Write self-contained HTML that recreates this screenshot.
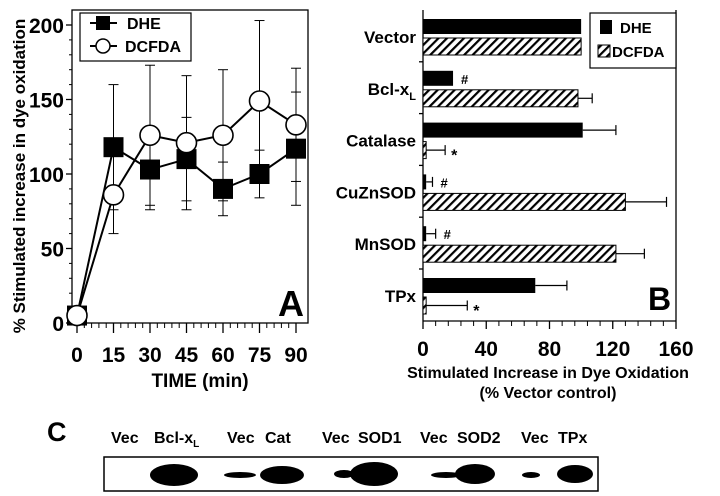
<!DOCTYPE html>
<html><head><meta charset="utf-8"><style>
body{margin:0;background:#fff}
svg{display:block;font-family:"Liberation Sans",Arial,sans-serif;font-weight:bold}
</style></head><body>
<svg id="fig" width="720" height="496" viewBox="0 0 720 496" xmlns="http://www.w3.org/2000/svg">
<defs><pattern id="hatch" width="6" height="6" patternUnits="userSpaceOnUse" patternTransform="rotate(45)"><rect width="6" height="6" fill="#fff"/><rect width="2.2" height="6" fill="#000"/></pattern></defs>
<g id="pa"></g>
<g id="pb"></g>
<g id="pc">
<text x="47" y="441" font-size="27">C</text>
<text x="111" y="443" font-size="16">Vec</text>
<text x="154" y="443" font-size="16">Bcl-x<tspan font-size="10" dy="4">L</tspan></text>
<text x="227" y="443" font-size="16">Vec</text>
<text x="265" y="443" font-size="16">Cat</text>
<text x="322" y="443" font-size="16">Vec</text>
<text x="358" y="443" font-size="16">SOD1</text>
<text x="420" y="443" font-size="16">Vec</text>
<text x="457" y="443" font-size="16">SOD2</text>
<text x="521" y="443" font-size="16">Vec</text>
<text x="558" y="443" font-size="16">TPx</text>
<rect x="104" y="457" width="494" height="34" fill="none" stroke="#000" stroke-width="1.5"/>
<ellipse cx="174" cy="475" rx="24" ry="11"/>
<ellipse cx="240" cy="475" rx="16" ry="3"/>
<ellipse cx="282" cy="475" rx="22" ry="9"/>
<ellipse cx="344" cy="474" rx="10" ry="4"/>
<ellipse cx="374" cy="474" rx="24" ry="12"/>
<ellipse cx="446" cy="475" rx="15" ry="3"/>
<ellipse cx="475" cy="474" rx="20" ry="10"/>
<ellipse cx="531" cy="475" rx="9" ry="3"/>
<ellipse cx="575" cy="474" rx="18" ry="9"/>
</g>
</svg>
<script>
const times=[0,15,30,45,60,75,90];
const dheVals=[5,118,103,110,90,100,117];
const dheErr=[0,42,27,28,18,16,38];
const dcfVals=[5,86,126,121,126,149,133];
const dcfErr=[0,26,47,45,44,54,38];
const yTicksA=[0,50,100,150,200];
const catsB=["Vector","Bcl-x","Catalase","CuZnSOD","MnSOD","TPx"];
const dheB=[100,19,101,2,2,71];
const dheBErr=[0,0,21,4,6,20];
const dcfB=[100,98,2,128,122,2];
const dcfBErr=[0,9,12,26,18,26];
const marksB=["","#","*","#","#","*"];
const xTicksB=[0,40,80,120,160];
const NS="http://www.w3.org/2000/svg";
function mk(p,t,a){const el=document.createElementNS(NS,t);for(const k in a)el.setAttribute(k,a[k]);p.appendChild(el);return el;}
// Panel A
const A=document.getElementById('pa');
const xA=t=>77+t*(219/90), yA=v=>323-v*1.49;
let e=mk(A,'rect',{x:72,y:10,width:236,height:313,fill:'none',stroke:'#000','stroke-width':1.3});


yTicksA.forEach(v=>{e=mk(A,'line',{x1:66,x2:72,y1:yA(v),y2:yA(v),stroke:'#000','stroke-width':1.3});


e=mk(A,'text',{x:64,y:yA(v)+8,'text-anchor':'end','font-size':21});e.textContent=v;

});
for(let v=10;v<200;v+=10){if(v%50)mk(A,'line',{x1:69,x2:72,y1:yA(v),y2:yA(v),stroke:'#000'});}
times.forEach(t=>{e=mk(A,'line',{x1:xA(t),x2:xA(t),y1:323,y2:333,stroke:'#000','stroke-width':1.3});


e=mk(A,'text',{x:xA(t),y:362,'text-anchor':'middle','font-size':21});e.textContent=t;

});
for(let t=3;t<90;t+=3){if(t%15)mk(A,'line',{x1:xA(t),x2:xA(t),y1:323,y2:328,stroke:'#000'});}
e=mk(A,'text',{x:200,y:387,'text-anchor':'middle','font-size':19});e.textContent='TIME  (min)';


e=mk(A,'text',{x:0,y:0,'text-anchor':'middle','font-size':17,transform:'translate(25,176) rotate(-90)'});e.textContent='% Stimulated increase in dye oxidation';


function errA(vals,err){vals.forEach((v,i)=>{if(!err[i])return;const x=xA(times[i]);
e=mk(A,'line',{x1:x,x2:x,y1:yA(v+err[i]),y2:yA(v-err[i]),stroke:'#000','stroke-width':1});


[v+err[i],v-err[i]].forEach(w=>mk(A,'line',{x1:x-5,x2:x+5,y1:yA(w),y2:yA(w),stroke:'#000'}));});}
errA(dheVals,dheErr);errA(dcfVals,dcfErr);
e=mk(A,'polyline',{points:dheVals.map((v,i)=>xA(times[i])+','+yA(v)).join(' '),fill:'none',stroke:'#000','stroke-width':2});


e=mk(A,'polyline',{points:dcfVals.map((v,i)=>xA(times[i])+','+yA(v)).join(' '),fill:'none',stroke:'#000','stroke-width':2});


dheVals.forEach((v,i)=>{e=mk(A,'rect',{x:xA(times[i])-10,y:yA(v)-10,width:20,height:20,fill:'#000'});

});
dcfVals.forEach((v,i)=>{e=mk(A,'circle',{cx:xA(times[i]),cy:yA(v),r:10,fill:'#fff',stroke:'#000','stroke-width':1.6});

});
e=mk(A,'rect',{x:80,y:13,width:111,height:48,fill:'#fff',stroke:'#000','stroke-width':1.2});


mk(A,'line',{x1:90,x2:117,y1:23,y2:23,stroke:'#000','stroke-width':2});
mk(A,'rect',{x:96,y:16,width:14,height:14,fill:'#000'});
mk(A,'line',{x1:90,x2:117,y1:46,y2:46,stroke:'#000','stroke-width':2});
mk(A,'circle',{cx:103,cy:46,r:7,fill:'#fff',stroke:'#000','stroke-width':1.5});
e=mk(A,'text',{x:127,y:29,'font-size':16});e.textContent='DHE';


e=mk(A,'text',{x:125,y:52,'font-size':16});e.textContent='DCFDA';


e=mk(A,'text',{x:278,y:316,'font-size':36});e.textContent='A';


// Panel B
const B=document.getElementById('pb');
const xB=v=>423+v*(253/160);const rowH=51.8,topB=10;
mk(B,'line',{x1:423,x2:423,y1:topB,y2:321,stroke:'#000','stroke-width':1.3});
e=mk(B,'line',{x1:423,x2:676,y1:321,y2:321,stroke:'#000','stroke-width':1.3});


mk(B,'line',{x1:676,x2:676,y1:topB,y2:321,stroke:'#000','stroke-width':1.3});
for(let i=1;i<6;i++)mk(B,'line',{x1:419,x2:423,y1:topB+i*rowH,y2:topB+i*rowH,stroke:'#000','stroke-width':1.3});
xTicksB.forEach(v=>{mk(B,'line',{x1:xB(v),x2:xB(v),y1:321,y2:329,stroke:'#000','stroke-width':1.3});
e=mk(B,'text',{x:xB(v),y:356,'text-anchor':'middle','font-size':21});e.textContent=v;

});
for(let v=8;v<160;v+=8){if(v%40)mk(B,'line',{x1:xB(v),x2:xB(v),y1:321,y2:326,stroke:'#000'});}
e=mk(B,'text',{x:548,y:378,'text-anchor':'middle','font-size':16});e.textContent='Stimulated Increase in Dye Oxidation';


e=mk(B,'text',{x:548,y:398,'text-anchor':'middle','font-size':16});e.textContent='(% Vector control)';


catsB.forEach((c,i)=>{const y0=topB+i*rowH;
e=mk(B,'text',{x:416,y:y0+33,'text-anchor':'end','font-size':17});e.textContent=c;
if(c==='Bcl-x'){const s=mk(e,'tspan',{'font-size':11,dy:5});s.textContent='L';}


e=mk(B,'rect',{x:423,y:y0+9,width:xB(dheB[i])-423,height:15,fill:'#000'});


e=mk(B,'rect',{x:423,y:y0+28,width:xB(dcfB[i])-423,height:17,fill:'url(#hatch)',stroke:'#000','stroke-width':1});


[[dheB[i],dheBErr[i],y0+16.5],[dcfB[i],dcfBErr[i],y0+36.5]].forEach(([v,er,yy])=>{if(!er)return;
e=mk(B,'line',{x1:xB(v),x2:xB(v+er),y1:yy,y2:yy,stroke:'#000','stroke-width':1.2});


mk(B,'line',{x1:xB(v+er),x2:xB(v+er),y1:yy-5,y2:yy+5,stroke:'#000','stroke-width':1.2});});
if(marksB[i]){const isHash=marksB[i]==='#';const v=isHash?dheB[i]+dheBErr[i]:dcfB[i]+dcfBErr[i];
e=mk(B,'text',{x:xB(v)+(isHash?8:6),y:isHash?y0+22:y0+47,'font-size':isHash?13:16});e.textContent=marksB[i];

}});
e=mk(B,'rect',{x:590,y:13,width:86,height:55,fill:'#fff',stroke:'#000','stroke-width':1.2});


mk(B,'rect',{x:600,y:20,width:12,height:14,fill:'#000'});
mk(B,'rect',{x:598,y:45,width:12,height:12,fill:'url(#hatch)',stroke:'#000'});
e=mk(B,'text',{x:620,y:33,'font-size':15});e.textContent='DHE';


e=mk(B,'text',{x:612,y:57,'font-size':15});e.textContent='DCFDA';


e=mk(B,'text',{x:648,y:310,'font-size':32});e.textContent='B';


</script>
</body></html>
